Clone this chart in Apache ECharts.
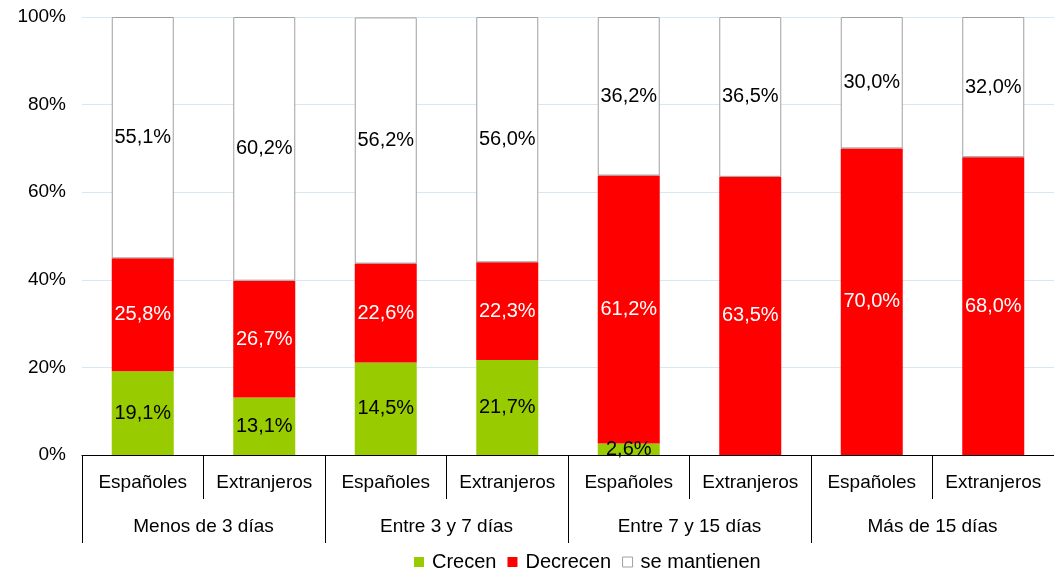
<!DOCTYPE html>
<html>
<head>
<meta charset="utf-8">
<script src="https://cdn.jsdelivr.net/npm/echarts@6/dist/echarts.min.js"></script>
<style>
html,body{margin:0;padding:0;background:#fff;}
#c{width:1054px;height:568px;}
</style>
</head>
<body>
<div id="c"></div>
<script>
var subCategories = ["Españoles","Extranjeros","Españoles","Extranjeros","Españoles","Extranjeros","Españoles","Extranjeros"];
var groups = ["Menos de 3 días","Entre 3 y 7 días","Entre 7 y 15 días","Más de 15 días"];
var crecen = [19.1, 13.1, 21.1, 21.7, 2.6, 0, 0, 0];
var crecenLabels = ["19,1%","13,1%","14,5%","21,7%","2,6%","","",""];
var decrecen = [25.8, 26.7, 22.6, 22.3, 61.2, 63.5, 70.0, 68.0];
var mantienen = [55.1, 60.2, 56.2, 56.0, 36.2, 36.5, 30.0, 32.0];
var yTicks = [0, 20, 40, 60, 80, 100];

var FONT = '"Liberation Sans", Arial, sans-serif';
function fmt(v){ return v ? v.toFixed(1).replace('.', ',') + '%' : ''; }

var chart = echarts.init(document.getElementById('c'));
chart.setOption({
  animation: false,
  textStyle: {fontFamily: FONT},
  grid: {left: 82, right: 0, top: 17, bottom: 113, containLabel: false},
  legend: {
    left: 409, top: 547,
    itemWidth: 10, itemHeight: 10, itemGap: 11,
    textStyle: {fontSize: 20, color: '#000', fontFamily: FONT, padding: [0,0,0,3]},
    data: [
      {name: 'Crecen', icon: 'rect'},
      {name: 'Decrecen', icon: 'rect'},
      {name: 'se mantienen', icon: 'rect', itemStyle: {color: '#fff', borderColor: '#a0a0a0', borderWidth: 1}}
    ]
  },
  xAxis: [
    {
      type: 'category', data: subCategories, position: 'bottom',
      axisLine: {lineStyle: {color: '#000', width: 1}},
      axisTick: {show: true, interval: 0, length: 44, lineStyle: {color: '#000'}},
      axisLabel: {interval: 0, margin: 18, fontSize: 19, color: '#000', fontFamily: FONT}
    },
    {
      type: 'category', data: groups, position: 'bottom', offset: 44,
      axisLine: {show: false},
      axisTick: {show: true, interval: 0, length: 44, lineStyle: {color: '#000'}},
      axisLabel: {interval: 0, margin: 18, fontSize: 19, color: '#000', fontFamily: FONT}
    }
  ],
  yAxis: {
    type: 'value', min: 0, max: 100, interval: 20,
    axisLine: {show: false}, axisTick: {show: false},
    splitLine: {lineStyle: {color: '#d6e8f2', width: 1}},
    axisLabel: {formatter: function(v){ return yTicks.indexOf(v) >= 0 ? v + '%' : ''; }, fontSize: 19, color: '#000', margin: 16, fontFamily: FONT}
  },
  series: [
    {
      name: 'Crecen', type: 'bar', stack: 's', barWidth: 62, data: crecen,
      itemStyle: {color: '#99cc00'},
      label: {show: true, position: 'inside', color: '#000', fontSize: 20, fontFamily: FONT,
        formatter: function(p){ return crecenLabels[p.dataIndex]; }}
    },
    {
      name: 'Decrecen', type: 'bar', stack: 's', barWidth: 62, data: decrecen,
      itemStyle: {color: '#ff0000'},
      label: {show: true, position: 'inside', color: '#fff', fontSize: 20, fontFamily: FONT,
        formatter: function(p){ return fmt(p.value); }}
    },
    {
      name: 'se mantienen', type: 'bar', stack: 's', barWidth: 62, data: mantienen,
      itemStyle: {color: '#ffffff', borderColor: '#a0a0a0', borderWidth: 1},
      label: {show: true, position: 'inside', color: '#000', fontSize: 20, fontFamily: FONT,
        formatter: function(p){ return fmt(p.value); }}
    }
  ]
});
</script>
</body>
</html>
